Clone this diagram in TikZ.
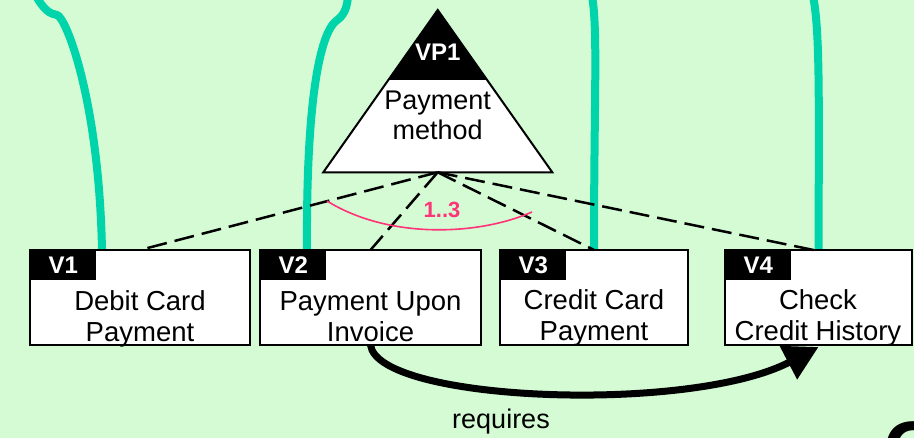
\documentclass[tikz,border=0pt]{standalone}
\usepackage{fontspec}
\setmainfont{Liberation Sans}
\usetikzlibrary{arrows.meta}

\definecolor{meadow}{RGB}{212,251,212}
\definecolor{linkteal}{RGB}{0,212,170}
\definecolor{cardpink}{RGB}{255,51,120}

\tikzset{
  varbox/.style={draw=black, line width=2pt, fill=white, minimum height=95pt,
                 inner sep=0pt, outer sep=0pt},
  vtag/.style={fill=black, text=white, font=\fontsize{24}{24}\selectfont\bfseries,
               minimum width=66pt, minimum height=30pt, inner sep=0pt, anchor=north west},
  vtext/.style={font=\fontsize{27.5}{31}\selectfont, align=center, inner sep=0pt, anchor=base},
  tracelink/.style={draw=linkteal, line width=8pt},
  altlink/.style={draw=black, line width=2.5pt, dash pattern=on 20pt off 8pt},
  reqlink/.style={draw=black, line width=7pt, -{Triangle[length=34pt,width=36pt]}},
  cardarc/.style={draw=cardpink, line width=1.6pt},
}

\begin{document}
\begin{tikzpicture}[x=1pt,y=-1pt]
  % canvas
  \fill[meadow] (0,0) rectangle (914,438);
  \useasboundingbox (0,0) rectangle (914,438);
  \clip (0,0) rectangle (914,438);

  % variant boxes
  \node[varbox, minimum width=220pt] (v1) at (140,297.5) {};
  \node[varbox, minimum width=221pt] (v2) at (370.5,297.5) {};
  \node[varbox, minimum width=188pt] (v3) at (594,297.5) {};
  \node[varbox, minimum width=187pt] (v4) at (818.5,297.5) {};

  % trace links coming in from above
  \coordinate (top1) at (36,-4);
  \coordinate (hook1) at (57,15);
  \coordinate (top2) at (348,-4);
  \coordinate (hook2) at (336,21);
  \coordinate (top3) at (592,-4);
  \coordinate (top4) at (813,-4);
  \draw[tracelink] (top1) .. controls (44,10) and (50,14) .. (hook1)
        .. controls (66,17) and (99,100) .. ([xshift=-38pt]v1.north);
  \draw[tracelink] (top2) .. controls (347,10) and (343,16) .. (hook2)
        .. controls (320,34) and (306,100) .. ([xshift=-63.5pt]v2.north);
  \draw[tracelink] (top3) .. controls (598,30) and (594,100) .. (v3.north);
  \draw[tracelink] (top4) .. controls (820,30) and (819,100) .. (v4.north);

  % redraw boxes over the link ends
  \node[varbox, minimum width=220pt] at (v1) {};
  \node[varbox, minimum width=221pt] at (v2) {};
  \node[varbox, minimum width=188pt] at (v3) {};
  \node[varbox, minimum width=187pt] at (v4) {};

  % tags
  \node[vtag] (t1) at (v1.north west) {V1};
  \node[vtag] (t2) at (v2.north west) {V2};
  \node[vtag] (t3) at (v3.north west) {V3};
  \node[vtag] (t4) at (v4.north west) {V4};

  % box texts (anchored on the baseline of the last line)
  \node[vtext] (x1) at (140,342) {Debit Card\\Payment};
  \node[vtext] (x2) at (370.5,342) {Payment Upon\\Invoice};
  \node[vtext] (x3) at (594,341) {Credit Card\\Payment};
  \node[vtext] (x4) at (818,341) {Check\\Credit History};

  % variation point triangle
  \coordinate (apex) at (437.7,10);
  \coordinate (bl) at (323.3,172.3);
  \coordinate (br) at (552.3,172.3);
  \coordinate (vp1) at (437.7,172.3);
  \fill[white] (apex) -- (bl) -- (br) -- cycle;
  \begin{scope}
    \clip (0,0) rectangle (914,80);
    \fill[black] (apex) -- (bl) -- (br) -- cycle;
  \end{scope}
  \draw[line width=2pt, line join=miter] (apex) -- (bl) -- (br) -- cycle;
  \node[font=\fontsize{24}{24}\selectfont\bfseries, text=white, anchor=base, inner sep=0pt]
    (vptag) at (437.7,61) {VP1};
  \node[vtext, font=\fontsize{27}{30}\selectfont] (vpname) at (437.7,140) {Payment\\method};

  % alternative links
  \draw[altlink] (vp1) -- (v1.north);
  \draw[altlink] (vp1) -- (v2.north);
  \draw[altlink] (vp1) -- (v3.north);
  \draw[altlink] (vp1) -- ([xshift=-5pt]v4.north);

  % cardinality
  \coordinate (arcL) at (327,201);
  \coordinate (arcR) at (532,212);
  \draw[cardarc] (arcL) .. controls (390,240) and (480,235) .. (arcR);
  \node[font=\fontsize{22}{22}\selectfont\bfseries, text=cardpink, anchor=base, inner sep=0pt]
    (card) at (442,218) {1..3};

  % requires dependency
  \draw[reqlink] (v2.south) .. controls (378,402) and (690,414) .. ([yshift=-2pt]v4.south);
  \node[vtext, font=\fontsize{27}{31}\selectfont] (req) at (501,429) {requires};

  % letter running off the corner
  \node[font=\fontsize{80}{80}\selectfont\bfseries, anchor=base west, inner sep=0pt] (cut) at (883,478) {C};
\end{tikzpicture}
\end{document}
